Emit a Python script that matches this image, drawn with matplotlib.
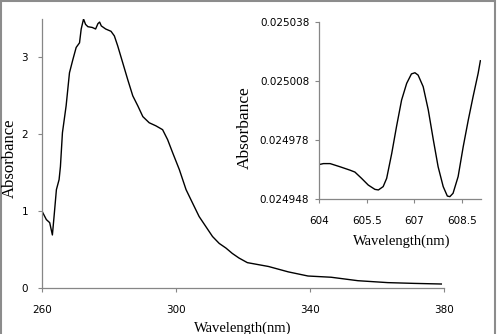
import matplotlib.pyplot as plt
from matplotlib.patches import Rectangle

# main spectrum
wl = [260, 261.3, 262.3, 263.1, 263.6, 264.3, 265.1, 265.5, 266.1, 267.2, 268.2, 269.2,
      270.2, 271.2, 271.7, 272.4, 273.0, 273.7, 275.0, 276.0, 276.7, 277.2, 277.7, 279.0,
      280.6, 281.6, 282.6, 284.1, 285.6, 287.1, 288.6, 290.1, 292.0, 294.0, 296.0, 297.5,
      299.0, 301.0, 303.0, 305.0, 306.9, 308.9, 310.9, 312.9, 314.9, 316.8, 318.8, 321.3,
      327.6, 333.5, 339.4, 346.3, 354.3, 363.2, 371.1, 379.2]
absb = [1.00, 0.89, 0.85, 0.69, 0.93, 1.28, 1.41, 1.58, 2.02, 2.37, 2.80, 2.97,
        3.13, 3.19, 3.37, 3.50, 3.43, 3.40, 3.39, 3.37, 3.44, 3.46, 3.41, 3.37,
        3.34, 3.28, 3.15, 2.93, 2.71, 2.50, 2.37, 2.23, 2.15, 2.11, 2.06, 1.93,
        1.76, 1.54, 1.28, 1.10, 0.93, 0.80, 0.67, 0.58, 0.52, 0.45, 0.39, 0.33,
        0.28, 0.21, 0.156, 0.14, 0.095, 0.07, 0.06, 0.052]

# inset
wl_in = [604.0, 604.14, 604.35, 604.66, 604.97, 605.13, 605.34, 605.55, 605.76, 605.87,
         606.02, 606.13, 606.29, 606.44, 606.60, 606.76, 606.91, 607.02, 607.12, 607.28,
         607.44, 607.60, 607.75, 607.91, 608.04, 608.12, 608.22, 608.38, 608.54, 608.70,
         608.85, 609.01, 609.08]
abs_in = [0.0249655, 0.0249660, 0.0249660, 0.0249644, 0.0249627, 0.0249617, 0.0249585,
          0.0249551, 0.0249529, 0.0249526, 0.0249543, 0.0249585, 0.0249712, 0.0249848,
          0.0249983, 0.0250068, 0.0250116, 0.0250122, 0.0250110, 0.0250051, 0.0249933,
          0.0249780, 0.0249644, 0.0249543, 0.0249495, 0.0249492, 0.0249509, 0.0249594,
          0.0249746, 0.0249882, 0.0250000, 0.0250119, 0.0250183]

main_xticks = [260, 300, 340, 380]
main_yticks = [0, 1, 2, 3]
in_xticks = [604, 605.5, 607, 608.5]
in_xlabels = ["604", "605.5", "607", "608.5"]
in_yticks = [0.024948, 0.024978, 0.025008, 0.025038]
in_ylabels = ["0.024948", "0.024978", "0.025008", "0.025038"]

W, H = 498, 334
fig = plt.figure(figsize=(W / 100, H / 100), dpi=100)
fig.add_artist(Rectangle((0.002, -0.05), 0.992, 1.047, transform=fig.transFigure,
                         fill=False, edgecolor="#8c8c8c", linewidth=1.5))

serif = ["Liberation Serif", "DejaVu Serif"]
spine_c = "#868686"


def style(ax):
    for s in ["top", "right"]:
        ax.spines[s].set_visible(False)
    for s in ["left", "bottom"]:
        ax.spines[s].set_color(spine_c)
        ax.spines[s].set_linewidth(0.9)
    ax.tick_params(direction="out", length=3, width=0.8, color=spine_c,
                   labelsize=7.5, labelcolor="black")
    ax.tick_params(axis="x", pad=9)


ax = fig.add_axes([42 / W, 46 / H, (444 - 42) / W, (288 - 19) / H])
ax.plot(wl, absb, color="black", lw=1.0)
ax.set_xlim(260, 380)
ax.set_ylim(0, 3.5)
ax.set_xticks(main_xticks)
ax.set_yticks(main_yticks)
style(ax)
ax.tick_params(axis="y", pad=7)
fig.text(10 / W, 1 - 158 / H, "Absorbance", rotation=90, ha="center", va="center",
         family=serif, fontsize=12)
fig.text(243 / W, 1 - 328 / H, "Wavelength(nm)", ha="center", va="center",
         family=serif, fontsize=10.5)

ins = fig.add_axes([319 / W, 135 / H, (481 - 319) / W, (199 - 22) / H])
ins.plot(wl_in, abs_in, color="black", lw=1.0)
ins.set_xlim(604, 609.1)
ins.set_ylim(0.024948, 0.025038)
ins.set_xticks(in_xticks)
ins.set_xticklabels(in_xlabels)
ins.set_yticks(in_yticks)
ins.set_yticklabels(in_ylabels)
style(ins)
ins.tick_params(axis="y", pad=4)
fig.text(245 / W, 1 - 128 / H, "Absorbance", rotation=90, ha="center", va="center",
         family=serif, fontsize=12.5)
fig.text(402 / W, 1 - 241 / H, "Wavelength(nm)", ha="center", va="center",
         family=serif, fontsize=10.5)

fig.savefig("out.png", dpi=100)
